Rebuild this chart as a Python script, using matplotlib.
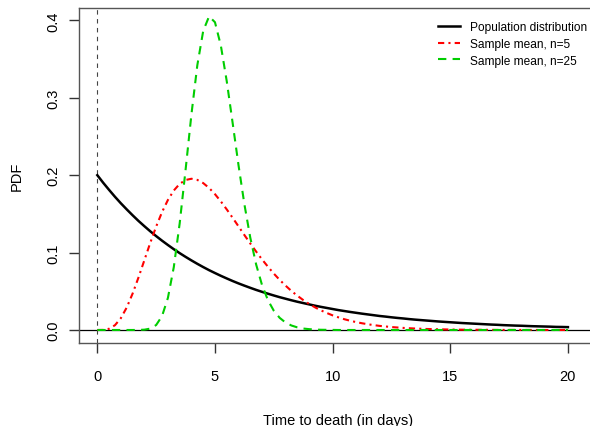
import numpy as np
import matplotlib
matplotlib.use("Agg")
import matplotlib.pyplot as plt

plt.rcParams['font.family'] = ['Liberation Sans', 'DejaVu Sans']

# Population distribution (exponential), x = 0..20 step 0.25
pop_x = [i * 0.25 for i in range(81)]
pop_y = [0.2, 0.1902, 0.181, 0.1721, 0.1637, 0.1558, 0.1482, 0.1409, 0.1341, 0.1275,
         0.1213, 0.1154, 0.1098, 0.1044, 0.0993, 0.0945, 0.0899, 0.0855, 0.0813, 0.0773,
         0.0736, 0.07, 0.0666, 0.0633, 0.0602, 0.0573, 0.0545, 0.0518, 0.0493, 0.0469,
         0.0446, 0.0424, 0.0404, 0.0384, 0.0365, 0.0348, 0.0331, 0.0314, 0.0299, 0.0285,
         0.0271, 0.0257, 0.0245, 0.0233, 0.0222, 0.0211, 0.0201, 0.0191, 0.0181, 0.0173,
         0.0164, 0.0156, 0.0149, 0.0141, 0.0134, 0.0128, 0.0122, 0.0116, 0.011, 0.0105,
         0.01, 0.0095, 0.009, 0.0086, 0.0082, 0.0078, 0.0074, 0.007, 0.0067, 0.0063,
         0.006, 0.0057, 0.0055, 0.0052, 0.0049, 0.0047, 0.0045, 0.0043, 0.004, 0.0039,
         0.0037]

# Sample mean n=5: x = 0..12 step 0.25, then 12.5..20 step 0.5
n5_x = [i * 0.25 for i in range(49)] + [12.5 + 0.5 * i for i in range(16)]
n5_y = [0.0, 0.0001, 0.0016, 0.0062, 0.0153, 0.0291, 0.0471, 0.0679, 0.0902, 0.1126,
        0.1336, 0.1523, 0.168, 0.1802, 0.1888, 0.1938, 0.1954, 0.1939, 0.1898, 0.1835,
        0.1755, 0.1661, 0.1558, 0.145, 0.1339, 0.1227, 0.1118, 0.1013, 0.0912, 0.0818,
        0.0729, 0.0647, 0.0573, 0.0504, 0.0443, 0.0387, 0.0337, 0.0293, 0.0254, 0.022,
        0.0189, 0.0163, 0.0139, 0.0119, 0.0102, 0.0087, 0.0074, 0.0063, 0.0053,
        0.0038, 0.0027, 0.0019, 0.0013, 0.0009, 0.0006, 0.0004, 0.0003, 0.0002, 0.0001,
        0.0001, 0.0001, 0.0, 0.0, 0.0, 0.0]

# Sample mean n=25, x = 0..20 step 0.25
n25_x = [i * 0.25 for i in range(81)]
n25_y = [0.0, 0.0, 0.0, 0.0, 0.0, 0.0, 0.0, 0.0001, 0.0004, 0.0018,
         0.0064, 0.0179, 0.0415, 0.0812, 0.1377, 0.2067, 0.2787, 0.3421, 0.3864, 0.4052,
         0.3976, 0.3674, 0.3215, 0.2677, 0.213, 0.1625, 0.1194, 0.0846, 0.058, 0.0386,
         0.0249, 0.0157, 0.0096, 0.0058, 0.0034, 0.0019, 0.0011, 0.0006, 0.0003, 0.0002,
         0.0001] + [0.0] * 40

legend_labels = ["Population distribution", "Sample mean, n=5", "Sample mean, n=25"]
x_ticks = [0, 5, 10, 15, 20]
y_ticks = [0.0, 0.1, 0.2, 0.3, 0.4]

fig = plt.figure(figsize=(5.9, 4.27), dpi=100)
ax = fig.add_axes([78.5 / 590, 83 / 427, 520 / 590, 335 / 427])

ax.axhline(0, color='black', lw=0.9, zorder=1)
ax.axvline(0, color='#444444', lw=0.8, linestyle=(0, (4, 4)), zorder=1)

ax.plot(pop_x, pop_y, color='black', lw=1.8, label=legend_labels[0])
ax.plot(n5_x, n5_y, color='#FF0000', lw=1.5, linestyle=(0, (3, 2, 1, 2)), label=legend_labels[1])
ax.plot(n25_x, n25_y, color='#00CD00', lw=1.5, linestyle=(0, (4, 3)), label=legend_labels[2])

ax.set_xlim(-0.8, 21.3)
ax.set_ylim(-0.0168, 0.416)

for s in ['top', 'right', 'bottom', 'left']:
    ax.spines[s].set_color('#555555')
    ax.spines[s].set_linewidth(1.0)

ax.set_xticks(x_ticks)
ax.set_xticklabels([str(t) for t in x_ticks])
ax.set_yticks(y_ticks)
ax.set_yticklabels([f"{t:.1f}" for t in y_ticks], rotation=90, va='center')
ax.tick_params(axis='both', direction='out', length=7.5, width=1.0, color='#333333',
               labelsize=10.5)
ax.tick_params(axis='x', pad=11.5)
ax.tick_params(axis='y', pad=5.5)

ax.set_xlabel("Time to death (in days)", fontsize=10.5, labelpad=21)
ax.set_ylabel("PDF", fontsize=10.5, labelpad=16.3)

leg = ax.legend(loc='upper left', bbox_to_anchor=(437.5 / 590, 1 - 22 / 427),
                bbox_transform=fig.transFigure,
                frameon=False, fontsize=8.6, handlelength=1.85, handletextpad=0.84,
                labelspacing=0.4, borderpad=0, borderaxespad=0)

fig.savefig("out.png", dpi=100)
